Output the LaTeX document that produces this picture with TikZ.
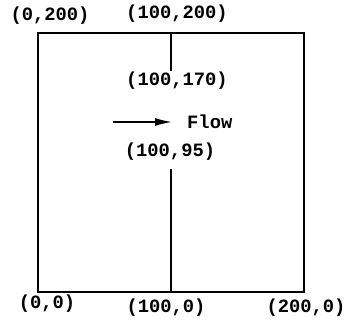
\documentclass[tikz,border=0pt]{standalone}
\usepackage{fontspec}
\setmonofont{Liberation Mono}
\usetikzlibrary{arrows.meta}
\tikzset{
  lbl/.style={font=\ttfamily\bfseries\fontsize{18.8}{18.8}\selectfont, inner sep=0pt},
  wall/.style={line width=1.6pt},
}
\begin{document}
\begin{tikzpicture}[x=1pt,y=-1pt]
\useasboundingbox (0,0) rectangle (347,326);
\coordinate (bl) at (38,292);
\coordinate (tr) at (304,33);
\draw[wall] (bl) rectangle (tr);
\coordinate (topA) at (171,33);
\coordinate (topB) at (171,71);
\coordinate (botA) at (171,169);
\coordinate (botB) at (171,292);
\draw[wall] (topA) -- (topB);
\draw[wall] (botA) -- (botB);
\node[lbl] (l1) at (50,16) {(0,200)};
\node[lbl] (l2) at (177,14) {(100,200)};
\node[lbl] (l3) at (177,81) {(100,170)};
\node[lbl] (l4) at (170,152) {(100,95)};
\node[lbl] (l5) at (47,304) {(0,0)};
\node[lbl] (l6) at (166,308) {(100,0)};
\node[lbl] (l7) at (306,308) {(200,0)};
\node[lbl, anchor=west] (flow) at (187,122) {Flow};
\coordinate (ar) at (113,122);
\draw[line width=1.5pt, -{Latex[length=17pt,width=8pt]}] (ar) -- (flow.west -| 172,0);
\end{tikzpicture}
\end{document}
